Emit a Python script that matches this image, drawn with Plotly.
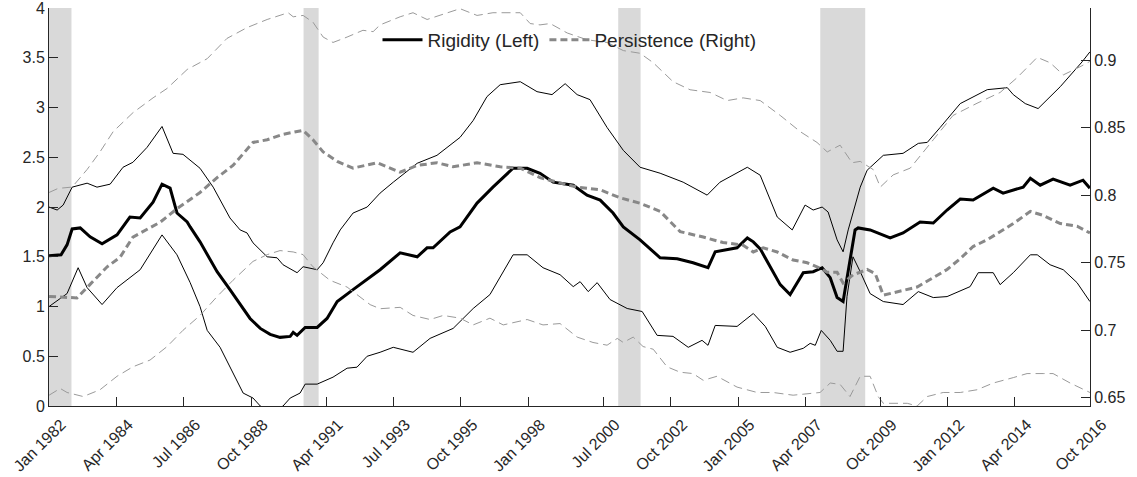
import pandas as pd
import plotly.graph_objects as go

# decimal-year time stamps and values
rig_t = [1982.0, 1982.4, 1982.6, 1982.77, 1983.04, 1983.37, 1983.77, 1984.27, 1984.7, 1985.04,
         1985.47, 1985.77, 1986.04, 1986.27, 1986.61, 1986.71, 1987.04, 1987.28, 1987.61, 1988.04,
         1988.38, 1988.71, 1989.05, 1989.38, 1989.71, 1990.05, 1990.15, 1990.28, 1990.55, 1990.95,
         1991.28, 1991.62, 1992.15, 1992.62, 1993.05, 1993.72, 1994.29, 1994.62, 1994.82, 1995.39,
         1995.72, 1996.29, 1996.82, 1997.49, 1997.96, 1998.39, 1998.83, 1999.5, 1999.96, 2000.4,
         2000.83, 2001.17, 2001.73, 2002.4, 2002.97, 2003.5, 2004.0, 2004.24, 2004.97, 2005.31,
         2005.51, 2005.74, 2006.41, 2006.74, 2007.18, 2007.51, 2007.81, 2008.08, 2008.31, 2008.51,
         2008.64, 2008.91, 2009.01, 2009.41, 2010.08, 2010.51, 2011.08, 2011.52, 2011.98, 2012.42,
         2012.85, 2013.52, 2013.85, 2014.52, 2014.76, 2015.09, 2015.52, 2016.09, 2016.52, 2016.75]
rig_v = [1.51, 1.52, 1.62, 1.78, 1.79, 1.70, 1.63, 1.72, 1.90, 1.89,
         2.05, 2.23, 2.19, 1.94, 1.85, 1.80, 1.65, 1.52, 1.35, 1.17,
         1.02, 0.88, 0.78, 0.72, 0.69, 0.70, 0.74, 0.71, 0.79, 0.79,
         0.88, 1.05, 1.17, 1.27, 1.37, 1.54, 1.50, 1.59, 1.59, 1.75,
         1.80, 2.04, 2.20, 2.39, 2.39, 2.34, 2.25, 2.22, 2.12, 2.07,
         1.94, 1.80, 1.67, 1.49, 1.48, 1.44, 1.39, 1.55, 1.59, 1.69,
         1.65, 1.58, 1.22, 1.12, 1.34, 1.35, 1.39, 1.29, 1.09, 1.05,
         1.27, 1.77, 1.79, 1.77, 1.69, 1.74, 1.85, 1.84, 1.97, 2.08,
         2.07, 2.19, 2.14, 2.20, 2.29, 2.22, 2.28, 2.22, 2.27, 2.19]

rig_hi_t = [1982.0, 1982.27, 1982.47, 1982.77, 1983.27, 1983.6, 1984.04, 1984.47, 1984.8, 1985.27,
            1985.77, 1986.14, 1986.47, 1987.04, 1987.48, 1988.04, 1988.38, 1988.61, 1988.81, 1989.28,
            1989.61, 1989.81, 1990.28, 1990.48, 1990.95, 1991.15, 1991.48, 1991.72, 1992.15, 1992.62,
            1993.05, 1993.49, 1994.29, 1994.95, 1995.72, 1996.16, 1996.62, 1997.06, 1997.73, 1998.29,
            1998.79, 1999.23, 1999.63, 2000.06, 2000.63, 2001.17, 2001.73, 2002.4, 2003.17, 2003.97,
            2004.4, 2005.31, 2005.74, 2006.31, 2006.81, 2007.24, 2007.51, 2007.81, 2008.01, 2008.31,
            2008.51, 2008.68, 2009.08, 2009.31, 2009.85, 2010.51, 2011.02, 2011.32, 2011.75, 2012.42,
            2013.32, 2013.99, 2014.19, 2014.59, 2015.02, 2015.76, 2016.49, 2016.75]
rig_hi_v = [2.00, 1.97, 2.02, 2.20, 2.24, 2.20, 2.23, 2.40, 2.45, 2.60,
            2.81, 2.54, 2.53, 2.39, 2.20, 1.89, 1.77, 1.74, 1.64, 1.50,
            1.49, 1.42, 1.34, 1.40, 1.37, 1.44, 1.64, 1.77, 1.94, 2.00,
            2.14, 2.25, 2.44, 2.52, 2.70, 2.87, 3.11, 3.23, 3.26, 3.16,
            3.13, 3.24, 3.13, 3.08, 2.80, 2.57, 2.40, 2.34, 2.25, 2.12,
            2.25, 2.40, 2.32, 1.90, 1.77, 2.02, 1.97, 2.00, 1.95, 1.67,
            1.55, 1.77, 2.20, 2.37, 2.52, 2.54, 2.64, 2.65, 2.80, 3.04,
            3.18, 3.20, 3.13, 3.04, 2.99, 3.21, 3.46, 3.56]

rig_lo_t = [1982.0, 1982.6, 1982.97, 1983.27, 1983.77, 1984.27, 1985.04, 1985.77, 1986.27, 1986.71,
            1987.04, 1987.28, 1987.71, 1988.14, 1988.48, 1988.81, 1989.05, 1989.4, 1989.81, 1990.05,
            1990.38, 1990.55, 1990.95, 1991.48, 1991.95, 1992.28, 1992.62, 1993.05, 1993.49, 1994.15,
            1994.72, 1995.49, 1996.16, 1996.72, 1997.49, 1997.96, 1998.49, 1999.06, 1999.5, 1999.73,
            2000.0, 2000.3, 2000.73, 2001.3, 2001.8, 2002.3, 2002.83, 2003.34, 2003.8, 2004.0,
            2004.24, 2004.97, 2005.51, 2005.91, 2006.31, 2006.74, 2007.18, 2007.41, 2007.58, 2007.78,
            2008.08, 2008.31, 2008.51, 2008.64, 2008.84, 2009.08, 2009.41, 2009.85, 2010.51, 2011.02,
            2011.52, 2011.98, 2012.75, 2013.02, 2013.52, 2013.75, 2014.19, 2014.76, 2014.99, 2015.42,
            2015.86, 2016.32, 2016.75]
rig_lo_v = [1.00, 1.13, 1.39, 1.19, 1.02, 1.19, 1.37, 1.72, 1.52, 1.24,
            1.00, 0.76, 0.59, 0.33, 0.13, 0.08, 0.00, -0.08, 0.00, 0.08,
            0.13, 0.22, 0.22, 0.29, 0.38, 0.39, 0.50, 0.54, 0.59, 0.54,
            0.68, 0.78, 0.98, 1.12, 1.52, 1.52, 1.39, 1.32, 1.20, 1.25,
            1.15, 1.24, 1.07, 0.98, 0.95, 0.71, 0.70, 0.59, 0.66, 0.61,
            0.81, 0.80, 0.93, 0.80, 0.59, 0.54, 0.58, 0.63, 0.61, 0.76,
            0.66, 0.55, 0.55, 1.10, 1.50, 1.35, 1.13, 1.05, 1.02, 1.15,
            1.09, 1.10, 1.20, 1.34, 1.34, 1.22, 1.34, 1.52, 1.52, 1.42,
            1.37, 1.24, 1.05]

per_t = [1982.0, 1982.6, 1982.93, 1983.37, 1983.94, 1984.37, 1984.8, 1985.71, 1986.27, 1987.04,
         1987.61, 1988.14, 1988.81, 1989.28, 1989.81, 1990.48, 1990.81, 1991.15, 1991.62, 1992.15,
         1992.38, 1992.95, 1993.72, 1994.29, 1994.95, 1995.49, 1996.29, 1997.06, 1997.73, 1998.39,
         1999.06, 1999.63, 2000.4, 2001.07, 2001.73, 2002.4, 2003.07, 2003.84, 2004.5, 2005.17,
         2005.51, 2005.84, 2006.31, 2006.84, 2007.31, 2007.74, 2007.98, 2008.31, 2008.51, 2008.84,
         2009.31, 2009.58, 2009.85, 2010.41, 2010.98, 2011.52, 2011.98, 2012.42, 2012.85, 2013.32,
         2013.75, 2014.19, 2014.76, 2015.19, 2015.76, 2016.32, 2016.75]
per_v = [0.725, 0.724, 0.724, 0.734, 0.747, 0.754, 0.769, 0.780, 0.790, 0.802,
         0.813, 0.822, 0.839, 0.841, 0.845, 0.848, 0.841, 0.832, 0.825, 0.820,
         0.821, 0.824, 0.817, 0.822, 0.824, 0.821, 0.824, 0.821, 0.820, 0.813,
         0.809, 0.806, 0.804, 0.798, 0.794, 0.788, 0.773, 0.769, 0.765, 0.763,
         0.758, 0.761, 0.758, 0.752, 0.750, 0.746, 0.743, 0.743, 0.735, 0.741,
         0.745, 0.742, 0.726, 0.729, 0.732, 0.739, 0.745, 0.753, 0.762, 0.767,
         0.773, 0.779, 0.788, 0.785, 0.779, 0.777, 0.772]

per_hi_t = [1982.0, 1982.3, 1982.77, 1983.27, 1983.7, 1984.14, 1984.8, 1985.47, 1985.94, 1986.61,
            1987.28, 1987.94, 1988.61, 1989.28, 1989.98, 1990.15, 1990.48, 1990.81, 1991.15, 1991.48,
            1991.95, 1992.48, 1992.82, 1993.05, 1993.72, 1994.15, 1994.62, 1995.72, 1996.29, 1996.82,
            1997.39, 1997.73, 1998.06, 1998.39, 1998.73, 1999.3, 1999.96, 2000.63, 2001.17, 2001.73,
            2002.17, 2002.83, 2003.4, 2004.07, 2004.64, 2005.17, 2005.74, 2006.41, 2007.08, 2007.64,
            2007.98, 2008.41, 2008.81, 2009.08, 2009.51, 2009.75, 2010.18, 2010.75, 2011.52, 2012.18,
            2012.98, 2013.75, 2014.32, 2014.99, 2015.42, 2015.86, 2016.42, 2016.75]
per_hi_v = [0.802, 0.805, 0.806, 0.819, 0.832, 0.847, 0.861, 0.872, 0.879, 0.893,
            0.901, 0.916, 0.924, 0.930, 0.935, 0.932, 0.933, 0.928, 0.917, 0.913,
            0.917, 0.922, 0.921, 0.926, 0.932, 0.935, 0.930, 0.938, 0.933, 0.935,
            0.935, 0.935, 0.927, 0.926, 0.927, 0.920, 0.915, 0.913, 0.907, 0.905,
            0.898, 0.884, 0.878, 0.876, 0.870, 0.872, 0.870, 0.859, 0.847, 0.839,
            0.832, 0.837, 0.824, 0.825, 0.819, 0.806, 0.815, 0.820, 0.841, 0.859,
            0.868, 0.876, 0.887, 0.902, 0.898, 0.889, 0.895, 0.899]

per_lo_t = [1982.0, 1982.37, 1982.6, 1983.14, 1983.7, 1984.27, 1984.8, 1985.37, 1985.94, 1986.47,
            1987.04, 1987.61, 1988.14, 1988.81, 1989.28, 1989.71, 1990.15, 1990.48, 1990.81, 1991.38,
            1991.95, 1992.38, 1992.72, 1993.05, 1993.72, 1994.15, 1994.72, 1995.16, 1995.72, 1996.16,
            1996.72, 1997.16, 1997.96, 1998.49, 1999.06, 1999.63, 2000.16, 2000.63, 2000.97, 2001.17,
            2001.5, 2001.83, 2002.17, 2002.63, 2003.07, 2003.5, 2003.84, 2004.3, 2004.97, 2005.64,
            2006.17, 2006.84, 2007.41, 2007.74, 2008.08, 2008.41, 2008.74, 2009.08, 2009.41, 2009.68,
            2009.85, 2010.65, 2010.98, 2011.32, 2011.85, 2012.42, 2012.98, 2013.52, 2014.19, 2014.65,
            2015.19, 2015.52, 2016.09, 2016.75]
per_lo_v = [0.652, 0.657, 0.654, 0.651, 0.656, 0.666, 0.673, 0.678, 0.688, 0.700,
            0.711, 0.725, 0.737, 0.751, 0.756, 0.759, 0.758, 0.756, 0.747, 0.737,
            0.732, 0.725, 0.719, 0.716, 0.717, 0.711, 0.708, 0.711, 0.709, 0.704,
            0.709, 0.704, 0.708, 0.704, 0.705, 0.695, 0.691, 0.689, 0.694, 0.691,
            0.695, 0.688, 0.686, 0.673, 0.669, 0.668, 0.663, 0.666, 0.658, 0.654,
            0.654, 0.652, 0.653, 0.654, 0.661, 0.660, 0.651, 0.666, 0.666, 0.651,
            0.646, 0.646, 0.644, 0.651, 0.654, 0.654, 0.656, 0.661, 0.665, 0.668,
            0.668, 0.668, 0.661, 0.654]

recessions = [("1982-01-01", "1982-10-01"), ("1990-07-01", "1991-01-01"),
              ("2001-01-01", "2001-10-01"), ("2007-10-01", "2009-04-01")]

tick_dates = ["1982-01-01", "1984-04-01", "1986-07-01", "1988-10-01", "1991-04-01", "1993-07-01",
              "1995-10-01", "1998-01-01", "2000-07-01", "2002-10-01", "2005-01-01", "2007-04-01",
              "2009-10-01", "2012-01-01", "2014-04-01", "2016-10-01"]
tick_text = ["Jan 1982", "Apr 1984", "Jul 1986", "Oct 1988", "Apr 1991", "Jul 1993",
             "Oct 1995", "Jan 1998", "Jul 2000", "Oct 2002", "Jan 2005", "Apr 2007",
             "Oct 2009", "Jan 2012", "Apr 2014", "Oct 2016"]


def to_dates(years):
    out = []
    for y in years:
        yr = int(y)
        out.append(pd.Timestamp(yr, 1, 1) + pd.Timedelta(days=(y - yr) * 365.25))
    return out


fig = go.Figure()

# bands first so the point estimates sit on top
fig.add_trace(go.Scatter(x=to_dates(per_hi_t), y=per_hi_v, yaxis="y2", mode="lines", showlegend=False,
                         line=dict(color="#9a9a9a", width=1, dash="9px,5px")))
fig.add_trace(go.Scatter(x=to_dates(per_lo_t), y=per_lo_v, yaxis="y2", mode="lines", showlegend=False,
                         line=dict(color="#9a9a9a", width=1, dash="9px,5px")))
fig.add_trace(go.Scatter(x=to_dates(rig_hi_t), y=rig_hi_v, mode="lines", showlegend=False,
                         line=dict(color="black", width=1)))
fig.add_trace(go.Scatter(x=to_dates(rig_lo_t), y=rig_lo_v, mode="lines", showlegend=False,
                         line=dict(color="black", width=1)))
fig.add_trace(go.Scatter(x=to_dates(rig_t), y=rig_v, mode="lines", name="Rigidity (Left)",
                         line=dict(color="black", width=3)))
fig.add_trace(go.Scatter(x=to_dates(per_t), y=per_v, yaxis="y2", mode="lines", name="Persistence (Right)",
                         line=dict(color="#888888", width=3, dash="7px,4px")))

for a, b in recessions:
    fig.add_shape(type="rect", xref="x", yref="paper", x0=a, x1=b, y0=0, y1=1,
                  fillcolor="#d9d9d9", line_width=0, layer="below")

axis_style = dict(showline=True, linecolor="#262626", linewidth=1, ticks="inside", ticklen=9,
                  tickcolor="#262626", showgrid=False, zeroline=False, automargin=False,
                  ticklabeloverflow="allow")

fig.update_layout(
    width=1137, height=477, autosize=False,
    margin=dict(l=49, r=47, t=8, b=71),
    plot_bgcolor="white", paper_bgcolor="white",
    font=dict(family="Liberation Sans, Arial, sans-serif", size=16, color="#262626"),
    xaxis=dict(type="date", range=["1981-12-31", "2016-10-02"], tickvals=tick_dates,
               ticktext=tick_text, tickangle=-45, ticklabelshift=12, ticklabelstandoff=2,
               **axis_style),
    yaxis=dict(range=[0, 4.001], tickvals=[0, 0.5, 1, 1.5, 2, 2.5, 3, 3.5, 4], **axis_style),
    yaxis2=dict(range=[0.644, 0.9385], overlaying="y", side="right",
                tickvals=[0.65, 0.7, 0.75, 0.8, 0.85, 0.9], **axis_style),
    legend=dict(orientation="h", x=0.5, xanchor="center", y=0.92, yanchor="middle",
                bgcolor="rgba(0,0,0,0)", font=dict(size=19, color="#262626"), itemwidth=40),
)

# drop the page's default body margin so the figure sits at the window corner
fig.write_html("out.html", config={"displayModeBar": False},
               post_script="document.body.style.margin = '0';")
